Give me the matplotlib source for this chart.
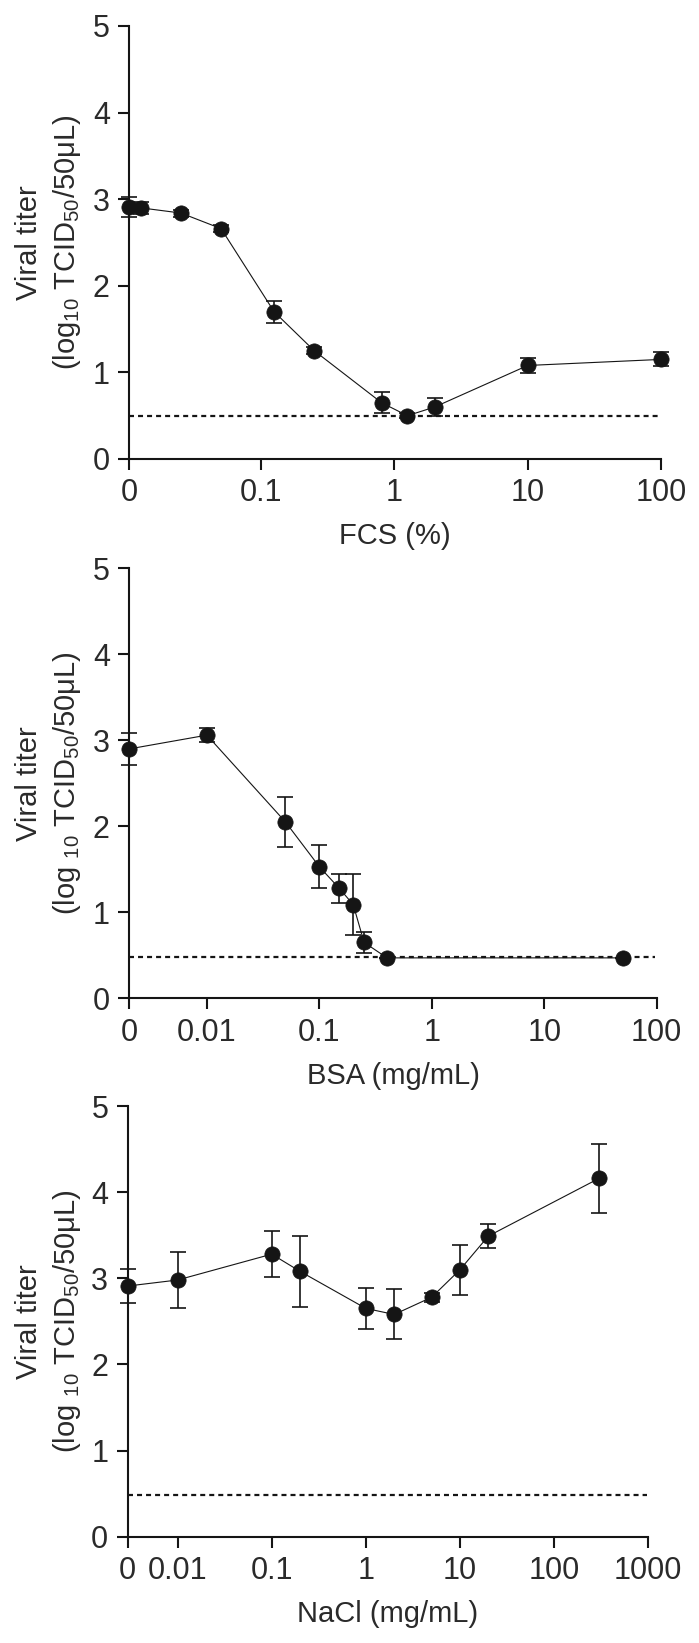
import matplotlib
matplotlib.use("Agg")
import matplotlib.pyplot as plt
import numpy as np

plt.rcParams["font.family"] = ["Liberation Sans", "DejaVu Sans"]
plt.rcParams["mathtext.fontset"] = "custom"
plt.rcParams["mathtext.rm"] = "Liberation Sans"
plt.rcParams["lines.scale_dashes"] = False

INK = "#151515"
TEXT = "#2a2a2a"

# ---- data (0 = untreated control, drawn at the "0" tick) ----
fcs_x = [0, 0.0125, 0.025, 0.05, 0.125, 0.25, 0.8, 1.25, 2, 10, 100]
fcs_y = [2.91, 2.90, 2.84, 2.66, 1.70, 1.25, 0.65, 0.50, 0.60, 1.08, 1.15]
fcs_err = [0.11, 0.07, 0.04, 0.04, 0.13, 0.04, 0.12, 0.03, 0.10, 0.09, 0.08]

bsa_x = [0, 0.01, 0.05, 0.1, 0.15, 0.2, 0.25, 0.4, 50]
bsa_y = [2.90, 3.06, 2.05, 1.53, 1.28, 1.09, 0.65, 0.47, 0.47]
bsa_err = [0.19, 0.08, 0.29, 0.25, 0.17, 0.35, 0.12, 0.0, 0.0]

nacl_x = [0, 0.01, 0.1, 0.2, 1, 2, 5, 10, 20, 300]
nacl_y = [2.91, 2.98, 3.28, 3.08, 2.65, 2.58, 2.78, 3.10, 3.49, 4.16]
nacl_err = [0.20, 0.33, 0.27, 0.41, 0.24, 0.29, 0.05, 0.29, 0.14, 0.40]

detection_limit = [0.50, 0.48, 0.48]

fcs_ticks = ["0", "0.1", "1", "10", "100"]
bsa_ticks = ["0", "0.01", "0.1", "1", "10", "100"]
nacl_ticks = ["0", "0.01", "0.1", "1", "10", "100", "1000"]

panels = [
    # (x, y, err, zero position exponent, tick values, tick labels, xlabel, label text, axes rect px)
    (fcs_x, fcs_y, fcs_err, -1.99, [0.1, 1, 10, 100], fcs_ticks, "FCS (%)",
     r"(log$_{\mathregular{10}}$ TCID$_{\mathregular{50}}$/50μL)",
     [129.3, 26, 661, 459]),
    (bsa_x, bsa_y, bsa_err, -2.69, [0.01, 0.1, 1, 10, 100], bsa_ticks, "BSA (mg/mL)",
     r"(log $_{\mathregular{10}}$ TCID$_{\mathregular{50}}$/50μL)",
     [129.3, 568.3, 656.7, 998.3]),
    (nacl_x, nacl_y, nacl_err, -2.53, [0.01, 0.1, 1, 10, 100, 1000], nacl_ticks, "NaCl (mg/mL)",
     r"(log $_{\mathregular{10}}$ TCID$_{\mathregular{50}}$/50μL)",
     [127.7, 1106, 648.3, 1536.7]),
]

W, H = 699, 1643
fig = plt.figure(figsize=(W / 100, H / 100), dpi=100)
fig.patch.set_facecolor("white")

for i, (xs, ys, errs, zexp, tvals, tlabels, xlabel, ylab2, rect) in enumerate(panels):
    x0, y0, x1, y1 = rect
    ax = fig.add_axes([x0 / W, 1 - y1 / H, (x1 - x0) / W, (y1 - y0) / H])
    zero = 10 ** zexp
    xplot = np.array([zero if v == 0 else v for v in xs])

    ax.plot([zero, tvals[-1] * (0.97 if i else 1.0)], [detection_limit[i]] * 2,
            color=INK, lw=1.6, dashes=(3.6, 2.9), zorder=1)
    _, caps, bars = ax.errorbar(xplot, ys, yerr=errs, fmt="none", ecolor=INK,
                                elinewidth=1.2, capsize=6, capthick=1.2, zorder=3)
    for art in list(caps) + list(bars):
        art.set_clip_on(False)
    ax.plot(xplot, ys, color=INK, lw=0.8, marker="o", ms=11, mec=INK, mfc=INK,
            mew=0.5, zorder=4, clip_on=False)

    ax.set_xscale("log")
    ax.set_xlim(zero, tvals[-1])
    ax.set_ylim(0, 5)
    ax.set_xticks([zero] + tvals)
    ax.set_xticklabels(tlabels)
    ax.xaxis.set_minor_locator(matplotlib.ticker.NullLocator())
    ax.set_yticks(range(6))
    ax.set_yticklabels([str(v) for v in range(6)])

    for side in ("top", "right"):
        ax.spines[side].set_visible(False)
    for side in ("left", "bottom"):
        ax.spines[side].set_linewidth(1.5)
        ax.spines[side].set_color(INK)
    ax.tick_params(direction="out", length=8, width=1.5, color=INK,
                   labelsize=22, labelcolor=TEXT, pad=6)
    ax.set_xlabel(xlabel, fontsize=21, color=TEXT, labelpad=10)

    yc = 1 - (y0 + y1) / 2 / H
    fig.text(29 / W, yc, "Viral titer", rotation=90, ha="center", va="center",
             fontsize=21, color=TEXT)
    fig.text(67 / W, yc, ylab2, rotation=90, ha="center", va="center",
             fontsize=21, color=TEXT)

fig.savefig("out.png", dpi=100, facecolor="white")
